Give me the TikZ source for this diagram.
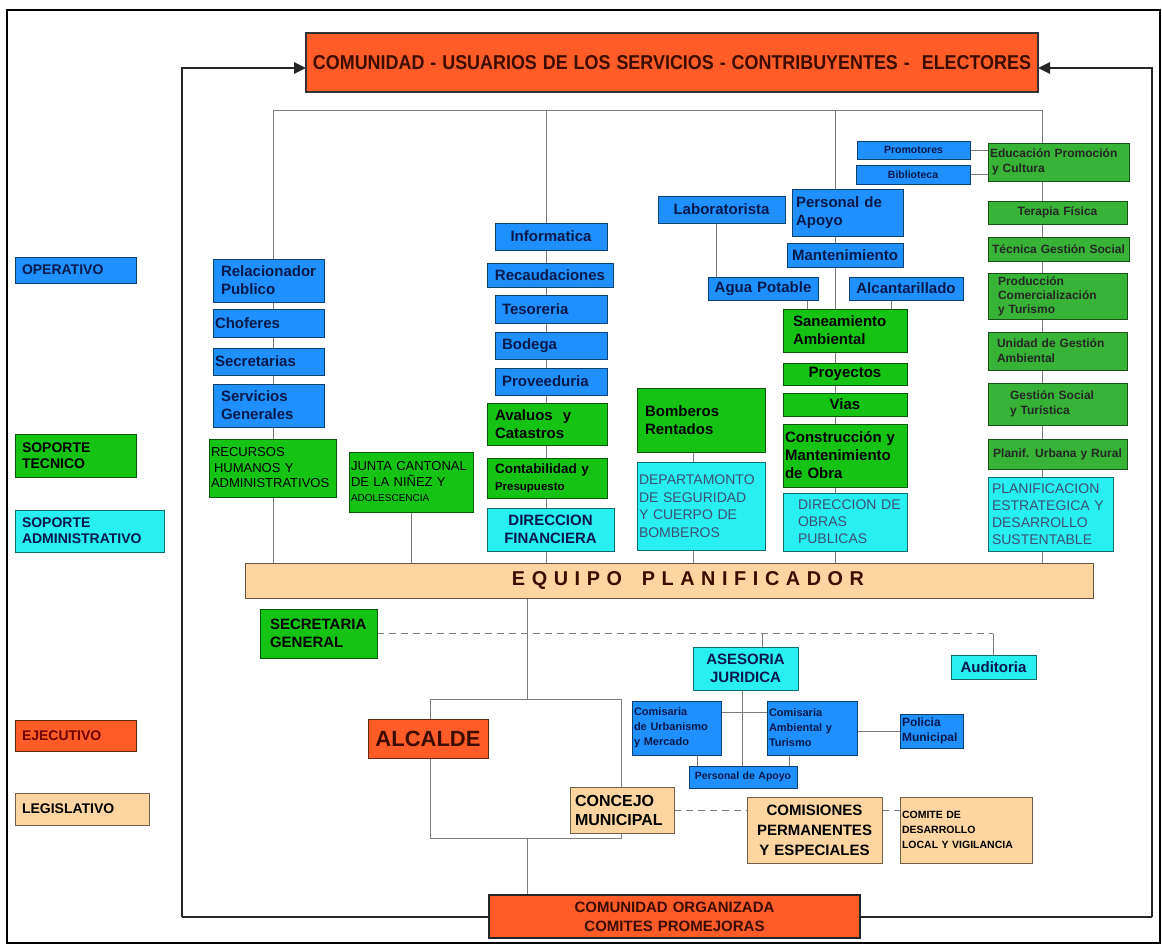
\documentclass[tikz,border=0pt]{standalone}
\usepackage{fontspec}
\setmainfont{Liberation Sans}
\usepackage{graphicx}
\usetikzlibrary{arrows.meta,backgrounds}
\definecolor{cOr}{RGB}{255,92,40}
\definecolor{cBl}{RGB}{30,144,255}
\definecolor{cGr}{RGB}{20,195,20}
\definecolor{cGrB}{RGB}{55,180,55}
\definecolor{cCy}{RGB}{40,240,240}
\definecolor{cBe}{RGB}{252,213,160}
\definecolor{cLn}{RGB}{125,125,125}
\definecolor{cNavy}{RGB}{10,25,75}
\definecolor{cDk}{RGB}{60,12,0}
\definecolor{cDr}{RGB}{110,0,0}
\definecolor{cGy}{RGB}{60,80,115}
\tikzset{
  bxs/.style={draw,line width=0.7pt,inner sep=2pt,outer sep=0pt,align=center},
  fb/.style 2 args={font=\bfseries\fontsize{#1}{#2}\selectfont},
  fr/.style 2 args={font=\fontsize{#1}{#2}\selectfont},
  ob/.style={fill=cBl,draw=cBl!45!black,text=cNavy},
  og/.style={fill=cGr,draw=cGr!45!black,text=black},
  ogb/.style={fill=cGrB,draw=cGrB!45!black,text=black!85},
  oc/.style={fill=cCy,draw=cCy!45!black,text=cNavy},
  oe/.style={fill=cBe,draw=cBe!45!black,text=black},
  oo/.style={fill=cOr,draw=cOr!40!black,text=cDk},
  ln/.style={draw=cLn,line width=0.9pt},
  dsh/.style={draw=cLn,line width=0.9pt,dash pattern=on 7pt off 5pt},
  loopst/.style={draw=black!85,line width=2.6pt},
  tip/.style={-{Triangle[length=12pt,width=11pt]}}
}
\newcommand{\ind}[1]{\hspace*{#1pt}}
\newcommand{\bx}[7][]{\pgfmathsetmacro{\myBW}{#5-#3-4}\pgfmathsetmacro{\myBH}{#6-#4}%
  \node[bxs,#1,anchor=north west,text width=\myBW pt,minimum height=\myBH pt] (#2) at (#3,#4) {#7};}
\begin{document}
\begin{tikzpicture}[x=1pt,y=-1pt]
\useasboundingbox (0,0) rectangle (1162,943);

% legend
\bx[ob,fb={14}{16},align=left]{lop}{15}{257}{136}{283}{\ind{5}OPERATIVO}
\bx[og,fb={14}{16},align=left]{lst}{15}{434}{136}{477}{\ind{5}SOPORTE\\\ind{5}TECNICO}
\bx[oc,fb={14}{16},align=left]{lsa}{15}{510}{164}{552}{\ind{5}SOPORTE\\\ind{5}ADMINISTRATIVO}
\bx[oo,fb={14}{16},align=left,text=cDr]{lej}{15}{720}{136}{751}{\ind{5}EJECUTIVO}
\bx[oe,fb={14}{16},align=left]{lle}{15}{793}{149}{825}{\ind{5}LEGISLATIVO}

% top and bottom community boxes
\bx[oo,line width=2pt,draw=black!80,font=\bfseries]{top}{306}{33}{1038}{92}{\resizebox{718pt}{14pt}{COMUNIDAD - USUARIOS DE LOS SERVICIOS - CONTRIBUYENTES -\ \ ELECTORES}}
\bx[oo,line width=2pt,draw=black!85,fb={15}{19}]{org}{489}{895}{860}{938}{COMUNIDAD ORGANIZADA\\COMITES PROMEJORAS}

% column 1
\bx[ob,fb={15}{18},align=left]{rel}{213}{259}{324}{302}{\ind{6}Relacionador\\\ind{6}Publico}
\bx[ob,fb={15}{18},align=left]{cho}{213}{309}{324}{337}{Choferes}
\bx[ob,fb={15}{18},align=left]{secr}{213}{348}{324}{375}{Secretarias}
\bx[ob,fb={15}{18},align=left]{ser}{213}{384}{324}{427}{\ind{6}Servicios\\\ind{6}Generales}
\bx[og,fr={13}{15.5},align=left]{rrhh}{209}{439}{336}{497}{RECURSOS\\\ind{3}HUMANOS Y\\ADMINISTRATIVOS}
\bx[og,fr={13}{15.5},align=left]{junta}{349}{452}{473}{512}{JUNTA CANTONAL\\DE LA NIÑEZ Y\\{\fontsize{10}{12}\selectfont ADOLESCENCIA}}

% column 2
\bx[ob,fb={15}{18}]{inf}{495}{223}{607}{250}{Informatica}
\bx[ob,fb={15}{18}]{rec}{487}{263}{613}{287}{Recaudaciones}
\bx[ob,fb={15}{18},align=left]{tes}{495}{295}{607}{323}{\ind{5}Tesoreria}
\bx[ob,fb={15}{18},align=left]{bod}{495}{332}{607}{359}{\ind{5}Bodega}
\bx[ob,fb={15}{18},align=left]{prv}{495}{368}{607}{395}{\ind{5}Proveeduria}
\bx[og,fb={15}{18},align=left]{ava}{487}{403}{607}{445}{\ind{6}Avaluos\ \ y\\\ind{6}Catastros}
\bx[og,fb={13.5}{17},align=left]{cont}{487}{458}{607}{498}{\ind{6}Contabilidad y\\\ind{6}{\fontsize{11.5}{14}\selectfont Presupuesto}}
\bx[oc,fb={15}{18}]{dirf}{487}{508}{614}{551}{DIRECCION\\FINANCIERA}

% bomberos
\bx[og,fb={15}{18},align=left]{bom}{637}{388}{765}{452}{\ind{6}Bomberos\\\ind{6}Rentados}
\bx[oc,fr={14}{17.5},align=left,text=cGy]{dep}{637}{462}{765}{550}{DEPARTAMONTO\\DE SEGURIDAD\\Y CUERPO DE\\BOMBEROS}

% column 3
\bx[ob,fb={15}{18}]{lab}{658}{196}{785}{223}{Laboratorista}
\bx[ob,fb={15}{18},align=left]{pap}{792}{189}{903}{236}{\ind{2}Personal de\\\ind{2}Apoyo}
\bx[ob,fb={15}{18}]{man}{787}{243}{903}{267}{Mantenimiento}
\bx[ob,fb={15}{18}]{agu}{708}{277}{818}{300}{Agua Potable}
\bx[ob,fb={15}{18}]{alc}{849}{277}{963}{300}{Alcantarillado}
\bx[og,fb={15}{18},align=left]{san}{783}{309}{907}{352}{\ind{8}Saneamiento\\\ind{8}Ambiental}
\bx[og,fb={15}{18}]{pry}{783}{363}{907}{385}{Proyectos}
\bx[og,fb={15}{18}]{via}{783}{393}{907}{416}{Vias}
\bx[og,fb={15}{18},align=left]{cmo}{783}{424}{907}{487}{Construcción y\\Mantenimiento\\de Obra}
\bx[oc,fr={14}{17},align=left,text=cGy]{dop}{783}{493}{907}{551}{\ind{13}DIRECCION DE\\\ind{13}OBRAS\\\ind{13}PUBLICAS}

% column 4
\bx[ob,fb={10.5}{12}]{prom}{857}{141}{970}{159}{Promotores}
\bx[ob,fb={10.5}{12}]{bib}{856}{165}{970}{184}{Biblioteca}
\bx[ogb,fb={12}{15},align=left]{edu}{988}{143}{1129}{181}{Educación Promoción\\\ind{2}y Cultura}
\bx[ogb,fb={12}{14}]{ter}{988}{201}{1127}{224}{Terapia Física}
\bx[ogb,fb={12}{14}]{tgs}{988}{237}{1129}{261}{Técnica Gestión Social}
\bx[ogb,fb={12}{14},align=left]{pcm}{988}{273}{1127}{319}{\ind{8}Producción\\\ind{8}Comercialización\\\ind{8}y Turismo}
\bx[ogb,fb={12}{15},align=left]{uga}{988}{332}{1127}{370}{\ind{7}Unidad de Gestión\\\ind{7}Ambiental}
\bx[ogb,fb={12}{15},align=left]{gst}{988}{383}{1127}{425}{\ind{20}Gestión Social\\\ind{20}y Turística}
\bx[ogb,fb={12}{14}]{pur}{988}{439}{1127}{469}{Planif. Urbana y Rural}
\bx[oc,fr={14}{17},align=left,text=cGy]{pes}{988}{477}{1113}{551}{\ind{2}PLANIFICACION\\\ind{2}ESTRATEGICA Y\\\ind{2}DESARROLLO\\\ind{2}SUSTENTABLE}

% planning team bar
\bx[oe,draw=cBe!40!black,font=\bfseries,text=cDk]{eq}{245}{563}{1093}{598}{\ind{38}\resizebox{352pt}{14pt}{E Q U I P O\ \ \ P L A N I F I C A D O R}}

% lower part
\bx[og,fb={15}{18},align=left]{secg}{260}{609}{377}{658}{\ind{8}SECRETARIA\\\ind{8}GENERAL}
\bx[oc,fb={15}{18}]{ases}{693}{647}{798}{690}{ASESORIA\\JURIDICA}
\bx[oc,fb={15}{18}]{aud}{951}{655}{1036}{679}{Auditoria}
\bx[ob,fb={11}{15},align=left]{urb}{632}{701}{721}{755}{Comisaria\\de Urbanismo\\y Mercado}
\bx[ob,fb={11}{15},align=left]{amb}{767}{701}{857}{755}{Comisaria\\Ambiental y\\Turismo}
\bx[ob,fb={12}{15},align=left]{pol}{900}{714}{963}{748}{Policia\\Municipal}
\bx[ob,fb={10.5}{12}]{pap2}{689}{766}{797}{788}{Personal de Apoyo}
\bx[oo,fb={22}{24}]{alc2}{368}{719}{488}{758}{ALCALDE}
\bx[oe,fb={16}{19},align=left]{conc}{570}{787}{674}{833}{\ind{3}CONCEJO\\\ind{3}MUNICIPAL}
\bx[oe,fb={15}{20}]{comi}{747}{797}{882}{863}{COMISIONES\\PERMANENTES\\Y ESPECIALES}
\bx[oe,fb={10.5}{15},align=left]{comt}{900}{797}{1032}{863}{COMITE DE\\DESARROLLO\\LOCAL Y VIGILANCIA}

% connectors
\begin{scope}[on background layer]
\fill[white] (0,0) rectangle (1162,943);
\draw[black,line width=1.2pt] (7,10) rectangle (1160,943);
% bus
\coordinate (b1) at (273,110);
\coordinate (b2) at (546,110);
\coordinate (b3) at (835,110);
\coordinate (b4) at (1042,110);
\draw[ln] (b1) -- (b4);
\draw[ln] (b1) -- (b1 |- eq.north);
\draw[ln] (b2) -- (b2 |- eq.north);
\draw[ln] (b3) -- (b3 |- eq.north);
\draw[ln] (b4) -- (b4 |- eq.north);
\draw[ln] (junta.south) -- (junta.south |- eq.north);
\coordinate (xb) at (693,0);
\draw[ln] (bom.south -| xb) -- (eq.north -| xb);
\coordinate (xl) at (716,0);
\draw[ln] (lab.south -| xl) -- (agu.north -| xl);
\coordinate (xp) at (807,0);
\draw[ln] (agu.south -| xp) -- (san.north -| xp);
\coordinate (xc) at (891,0);
\draw[ln] (alc.south -| xc) -- (san.north -| xc);
\draw[ln] (prom.east) -- (prom.east -| edu.west);
\draw[ln] (bib.east) -- (bib.east -| edu.west);
% below the bar
\coordinate (xa) at (527,0);
\coordinate (ra) at (430,699);
\coordinate (rb) at (621,838);
\draw[ln] (eq.south -| xa) -- (ra -| xa);
\draw[ln] (ra) rectangle (rb);
\draw[ln] (rb -| xa) -- (org.north -| xa);
\coordinate (dr) at (993,0);
\draw[dsh] (secg.east) -- (secg.east -| dr);
\draw[ln] (secg.east -| dr) -- (aud.north -| dr);
\coordinate (xs) at (762,0);
\draw[ln] (secg.east -| xs) -- (ases.north -| xs);
\coordinate (xj) at (742,0);
\draw[ln] (ases.south -| xj) -- (pap2.north -| xj);
\coordinate (yc) at (0,712);
\draw[ln] (urb.east |- yc) -- (amb.west |- yc);
\draw[ln] (pol.west -| amb.east) -- (pol.west);
\coordinate (xu) at (697,0);
\draw[ln] (urb.south -| xu) -- (pap2.north -| xu);
\coordinate (xm) at (789,0);
\draw[ln] (amb.south -| xm) -- (pap2.north -| xm);
\draw[dsh] (conc.east) -- (conc.east -| comi.west);
\draw[dsh] (conc.east -| comi.east) -- (conc.east -| comt.west);
% feedback loop
\coordinate (l1) at (182,917);
\coordinate (l2) at (1152,917);
\coordinate (l3) at (182,68);
\coordinate (l4) at (1152,68);
\draw[loopst] (l1) -- (l2);
\draw[loopst,tip] (l1) -- (l3) -- (l3 -| top.west);
\draw[loopst,tip] (l2) -- (l4) -- (l4 -| top.east);
\end{scope}
\end{tikzpicture}
\end{document}
